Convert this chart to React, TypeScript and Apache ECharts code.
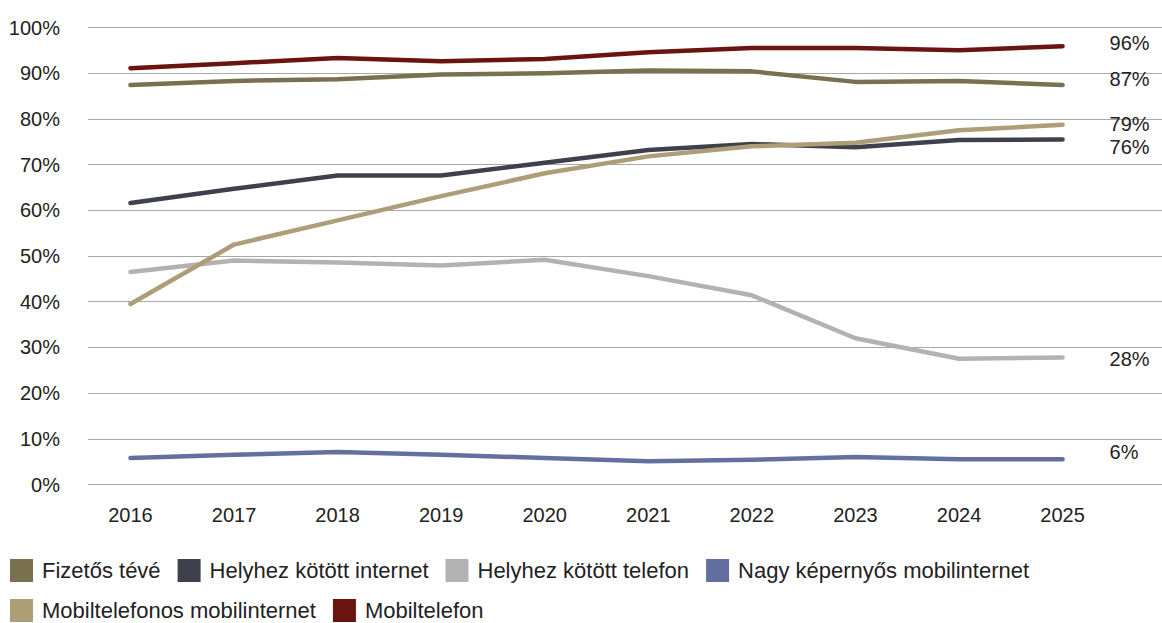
import React, { useEffect, useRef } from "react";
import * as echarts from "echarts";

const years = [2016, 2017, 2018, 2019, 2020, 2021, 2022, 2023, 2024, 2025];
const yTicks = [0, 10, 20, 30, 40, 50, 60, 70, 80, 90, 100];

const fizetosTeve = [87.4, 88.3, 88.7, 89.7, 90.0, 90.6, 90.4, 88.1, 88.3, 87.4];
const helyhezInternet = [61.6, 64.7, 67.6, 67.6, 70.4, 73.2, 74.5, 73.8, 75.4, 75.5];
const helyhezTelefon = [46.5, 49.0, 48.6, 47.9, 49.2, 45.6, 41.4, 32.0, 27.5, 27.8];
const nagyKepernyos = [5.8, 6.5, 7.1, 6.5, 5.8, 5.1, 5.4, 6.0, 5.5, 5.5];
const mobilInternet = [39.5, 52.5, 57.8, 63.1, 68.1, 71.8, 74.0, 74.8, 77.5, 78.7];
const mobiltelefon = [91.1, 92.2, 93.3, 92.6, 93.1, 94.6, 95.5, 95.5, 95.0, 95.9];

const seriesDefs = [
  { name: "Fizetős tévé", data: fizetosTeve, color: "#78704f", labelDy: -6 },
  { name: "Helyhez kötött internet", data: helyhezInternet, color: "#3e414b", labelDy: 8 },
  { name: "Helyhez kötött telefon", data: helyhezTelefon, color: "#b2b2b2", labelDy: 2 },
  { name: "Nagy képernyős mobilinternet", data: nagyKepernyos, color: "#63709f", labelDy: -7 },
  { name: "Mobiltelefonos mobilinternet", data: mobilInternet, color: "#ad9e77", labelDy: -1 },
  { name: "Mobiltelefon", data: mobiltelefon, color: "#6b130f", labelDy: -3 },
];

const FONT = "Liberation Sans, Arial, sans-serif";

export default function App() {
  const ref = useRef<HTMLDivElement>(null);
  useEffect(() => {
    if (!ref.current) return;
    const chart = echarts.init(ref.current, undefined, { renderer: "svg" });
    chart.setOption({
      animation: false,
      textStyle: { fontFamily: FONT },
      grid: { left: 88, right: 0, top: 27.5, bottom: 138.5, containLabel: false },
      legend: {
        left: 10,
        top: 559,
        padding: 0,
        itemWidth: 23,
        itemHeight: 23,
        itemGap: 17,
        icon: "rect",
        textStyle: {
          fontFamily: FONT,
          fontSize: 22,
          lineHeight: 20,
          color: "#222",
          padding: [0, 0, 0, 4],
        },
        data: seriesDefs.map((s) => s.name),
      },
      xAxis: {
        type: "value",
        min: 2015.59,
        max: 2025.96,
        axisLine: { show: false },
        axisTick: { show: false },
        splitLine: { show: false },
        axisLabel: {
          customValues: years,
          margin: 20,
          fontSize: 20,
          color: "#222",
          fontFamily: FONT,
          formatter: (v: number) => String(Math.round(v)),
        },
      },
      yAxis: {
        type: "value",
        min: 0,
        max: 100,
        interval: 10,
        axisLine: { show: false },
        axisTick: { show: false },
        splitLine: { show: true, lineStyle: { color: "#a8a8a8", width: 1 } },
        axisLabel: {
          margin: 28,
          fontSize: 20,
          color: "#222",
          fontFamily: FONT,
          formatter: (v: number) => (yTicks.includes(v) ? v + "%" : ""),
        },
      },
      series: seriesDefs.map((s) => ({
        name: s.name,
        type: "line",
        data: s.data.map((v, i) => [years[i], v]),
        symbol: "none",
        color: s.color,
        lineStyle: { color: s.color, width: 4.5, cap: "round", join: "round" },
        endLabel: {
          show: true,
          distance: 47,
          offset: [0, s.labelDy],
          fontSize: 20,
          fontFamily: FONT,
          color: "#222",
          formatter: (p: any) => Math.round(p.value[1]) + "%",
        },
      })),
    });
    return () => chart.dispose();
  }, []);
  return (
    <div
      ref={ref}
      style={{ position: "fixed", left: 0, top: 0, width: 1162, height: 623, background: "#fff" }}
    />
  );
}
